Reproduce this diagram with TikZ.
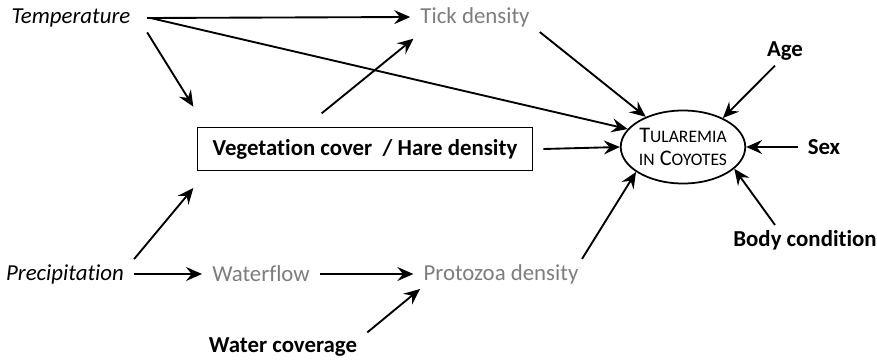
\documentclass[tikz,border=0pt]{standalone}
\usepackage{fontspec}
\setmainfont{Carlito}[Ligatures=NoCommon]
\usetikzlibrary{arrows.meta}
\usetikzlibrary{shapes.geometric}
\definecolor{fadegray}{RGB}{125,125,125}

\begin{document}
\begin{tikzpicture}[x=0.3mm, y=-0.3mm,
        lbl/.style = {inner xsep=3mm, inner ysep=1.5mm, font=\fontsize{19.5}{23}\selectfont},
        faded/.style = {lbl, text=fadegray},
        bold/.style = {lbl, font=\fontsize{19.5}{23}\selectfont\bfseries},
        arr/.style = {black, line width=1.6pt, -{Stealth[length=4.8mm, width=4.2mm, inset=1.7mm]}}]
            \useasboundingbox (0,0) rectangle (877,361);
            \node[lbl] (temp) at (71,18) {\itshape Temperature};
            \node[faded] (tick) at (475,17) {Tick density};
            \node[bold] (age) at (785,51) {Age};
            \node[draw, line width=1.4pt, minimum width=100.5mm, minimum height=12.9mm,
                  font=\fontsize{19.5}{23}\selectfont\bfseries] (veg) at (365,149) {Vegetation cover\ \ / Hare density};
            \node[draw, ellipse, line width=1.5pt, minimum width=36.3mm, minimum height=21.9mm, inner sep=0pt,
                  align=center, font=\fontsize{19}{22}\selectfont] (tul) at (683,147)
                  {T{\fontsize{15}{18}\selectfont ULAREMIA}\\[-1mm]{\fontsize{15}{18}\selectfont IN} C{\fontsize{15}{18}\selectfont OYOTES}};
            \node[bold] (sex) at (824,147) {Sex};
            \node[bold] (body) at (805,240) {Body condition};
            \node[lbl] (precip) at (65,274) {\itshape Precipitation};
            \node[faded] (water) at (261,274) {Waterflow};
            \node[faded] (proto) at (501,274) {Protozoa density};
            \node[bold] (cover) at (283,347) {Water coverage};

            \draw[arr] ([xshift=2mm]temp.east) -- (tick.west);
            \draw[arr] ([xshift=3mm]temp.east) -- (tul.162);
            \draw[arr] ([xshift=2mm]temp.south east) -- ([xshift=-1mm,yshift=6mm]veg.north west);
            \draw[arr] ([xshift=-13mm,yshift=4mm]veg.north) -- ([xshift=1mm,yshift=-2mm]tick.south west);
            \draw[arr] (tick.south east) -- (tul.141);
            \draw[arr] ([xshift=-3mm]age.south) -- (tul.36);
            \draw[arr] ([xshift=3mm]veg.east) -- (tul.180);
            \draw[arr] (sex.west) -- (tul.0);
            \draw[arr] ([xshift=-9mm]body.north) -- (tul.337);
            \draw[arr] ([xshift=-2mm]proto.north east) -- (tul.208);
            \draw[arr] (precip.north east) -- ([xshift=-1mm,yshift=-5mm]veg.south west);
            \draw[arr] (precip.east) -- (water.west);
            \draw[arr] (water.east) -- (proto.west);
            \draw[arr] (cover.north east) -- ([xshift=2mm]proto.south west);
\end{tikzpicture}
\end{document}
